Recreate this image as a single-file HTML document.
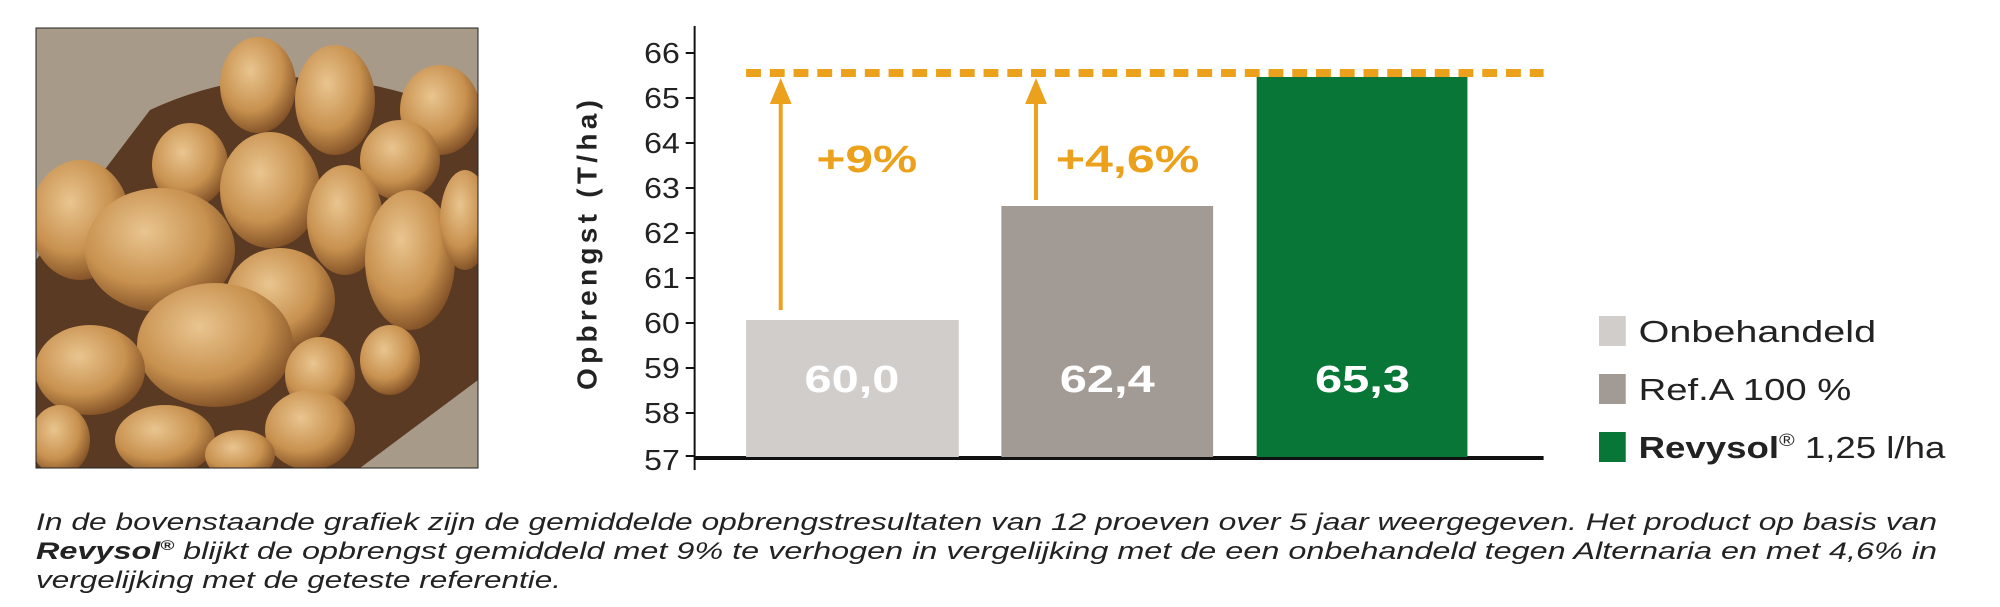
<!DOCTYPE html><html><head><meta charset="utf-8"><style>
body{margin:0;width:2000px;height:607px;background:#fff;overflow:hidden;font-family:"Liberation Sans",sans-serif}
</style></head><body>
<svg width="2000" height="607" xmlns="http://www.w3.org/2000/svg" style="position:absolute;left:0;top:0">
<defs>
<radialGradient id="p" cx="40%" cy="35%" r="70%"><stop offset="0" stop-color="#e9c58f"/><stop offset="0.6" stop-color="#c8914f"/><stop offset="1" stop-color="#7a4a22"/></radialGradient>
<clipPath id="c"><rect x="36" y="28" width="442" height="440"/></clipPath>
</defs>
<g clip-path="url(#c)">
<rect x="36" y="28" width="442" height="440" fill="#5a3a22"/>
<path d="M36 28 L478 28 L478 120 Q300 40 150 110 L36 260Z" fill="#a89a88"/>
<path d="M360 468 L478 380 L478 468Z" fill="#a89a88"/>
<g fill="url(#p)">
<ellipse cx="258" cy="85" rx="38" ry="48"/><ellipse cx="335" cy="100" rx="40" ry="55"/><ellipse cx="440" cy="110" rx="40" ry="45"/>
<ellipse cx="190" cy="165" rx="38" ry="42"/><ellipse cx="270" cy="190" rx="50" ry="58"/><ellipse cx="400" cy="160" rx="40" ry="40"/>
<ellipse cx="80" cy="220" rx="50" ry="60"/><ellipse cx="160" cy="250" rx="75" ry="62"/><ellipse cx="345" cy="220" rx="38" ry="55"/>
<ellipse cx="410" cy="260" rx="45" ry="70"/><ellipse cx="465" cy="220" rx="25" ry="50"/><ellipse cx="280" cy="300" rx="55" ry="52"/>
<ellipse cx="215" cy="345" rx="78" ry="62"/><ellipse cx="90" cy="370" rx="55" ry="45"/><ellipse cx="320" cy="375" rx="35" ry="38"/>
<ellipse cx="390" cy="360" rx="30" ry="35"/><ellipse cx="310" cy="430" rx="45" ry="40"/><ellipse cx="165" cy="440" rx="50" ry="35"/><ellipse cx="60" cy="440" rx="30" ry="35"/><ellipse cx="240" cy="455" rx="35" ry="25"/>
</g></g>
<rect x="36" y="28" width="442" height="440" fill="none" stroke="#222" stroke-width="1"/>
<g transform="matrix(0.9895 0 0 1 -1 0)">
<line x1="703" y1="26" x2="703" y2="470" stroke="#111" stroke-width="2"/>
<line x1="703" y1="458" x2="1561" y2="458" stroke="#111" stroke-width="4"/>
<g stroke="#111" stroke-width="2">
<line x1="694" y1="53" x2="703" y2="53"/><line x1="694" y1="98" x2="703" y2="98"/><line x1="694" y1="143" x2="703" y2="143"/><line x1="694" y1="188" x2="703" y2="188"/><line x1="694" y1="233" x2="703" y2="233"/><line x1="694" y1="278" x2="703" y2="278"/><line x1="694" y1="323" x2="703" y2="323"/><line x1="694" y1="368" x2="703" y2="368"/><line x1="694" y1="413" x2="703" y2="413"/><line x1="694" y1="456" x2="703" y2="456"/>
</g>
<g font-size="29" fill="#222" text-anchor="end" transform="translate(688,0)">
<text x="0" y="63" textLength="36" lengthAdjust="spacingAndGlyphs">66</text><text x="0" y="108" textLength="36" lengthAdjust="spacingAndGlyphs">65</text><text x="0" y="153" textLength="36" lengthAdjust="spacingAndGlyphs">64</text><text x="0" y="198" textLength="36" lengthAdjust="spacingAndGlyphs">63</text><text x="0" y="243" textLength="36" lengthAdjust="spacingAndGlyphs">62</text><text x="0" y="288" textLength="36" lengthAdjust="spacingAndGlyphs">61</text><text x="0" y="333" textLength="36" lengthAdjust="spacingAndGlyphs">60</text><text x="0" y="378" textLength="36" lengthAdjust="spacingAndGlyphs">59</text><text x="0" y="423" textLength="36" lengthAdjust="spacingAndGlyphs">58</text><text x="0" y="470" textLength="36" lengthAdjust="spacingAndGlyphs">57</text>
</g>
<text transform="translate(604,245) rotate(-90)" font-size="28" font-weight="bold" fill="#222" text-anchor="middle" textLength="290" lengthAdjust="spacing">Opbrengst (T/ha)</text>
<rect x="755" y="320" width="215" height="137" fill="#d1cdca"/>
<rect x="1013" y="206" width="214" height="251" fill="#a29a95"/>
<rect x="1271" y="77" width="213" height="380" fill="#087637"/>
<g font-size="38" font-weight="bold" fill="#fff" text-anchor="middle">
<text x="862" y="392" textLength="96" lengthAdjust="spacingAndGlyphs">60,0</text>
<text x="1120" y="392" textLength="96" lengthAdjust="spacingAndGlyphs">62,4</text>
<text x="1378" y="392" textLength="96" lengthAdjust="spacingAndGlyphs">65,3</text>
</g>
<line x1="755" y1="73" x2="1561" y2="73" stroke="#eba11b" stroke-width="8" stroke-dasharray="15,9"/>
<g stroke="#eba11b" stroke-width="4" fill="#eba11b">
<line x1="790" y1="310" x2="790" y2="95"/><path d="M779 104 L790 78 L801 104Z" stroke="none"/>
<line x1="1048" y1="200" x2="1048" y2="95"/><path d="M1037 104 L1048 78 L1059 104Z" stroke="none"/>
</g>
<g font-size="38" font-weight="bold" fill="#eba11b">
<text x="826" y="172" textLength="102" lengthAdjust="spacingAndGlyphs">+9%</text>
<text x="1068" y="172" textLength="145" lengthAdjust="spacingAndGlyphs">+4,6%</text>
</g>
<rect x="1617" y="316" width="27" height="30" fill="#d1cdca"/>
<rect x="1617" y="374" width="27" height="30" fill="#a29a95"/>
<rect x="1617" y="432" width="27" height="30" fill="#087637"/>
<g font-size="31" fill="#222">
<text x="1657" y="342" textLength="240" lengthAdjust="spacingAndGlyphs">Onbehandeld</text>
<text x="1657" y="400" textLength="215" lengthAdjust="spacingAndGlyphs">Ref.A 100 %</text>
<text x="1657" y="458" textLength="310" lengthAdjust="spacingAndGlyphs"><tspan font-weight="bold">Revysol</tspan><tspan font-size="18" dy="-12">®</tspan><tspan dy="12"> 1,25 l/ha</tspan></text>
</g>
</g>
<g font-size="24" font-style="italic" fill="#222">
<text x="36" y="530" textLength="1926" lengthAdjust="spacingAndGlyphs" transform="matrix(0.987 0 0 1 0.5 0)">In de bovenstaande grafiek zijn de gemiddelde opbrengstresultaten van 12 proeven over 5 jaar weergegeven. Het product op basis van</text>
<text x="36" y="559" textLength="1926" lengthAdjust="spacingAndGlyphs" transform="matrix(0.987 0 0 1 0.5 0)"><tspan font-weight="bold">Revysol</tspan><tspan font-size="14" dy="-9" font-weight="bold">®</tspan><tspan dy="9"> blijkt de opbrengst gemiddeld met 9% te verhogen in vergelijking met de een onbehandeld tegen Alternaria en met 4,6% in</tspan></text>
<text x="36" y="588" textLength="525" lengthAdjust="spacingAndGlyphs">vergelijking met de geteste referentie.</text>
</g>
</svg>
</body></html>
